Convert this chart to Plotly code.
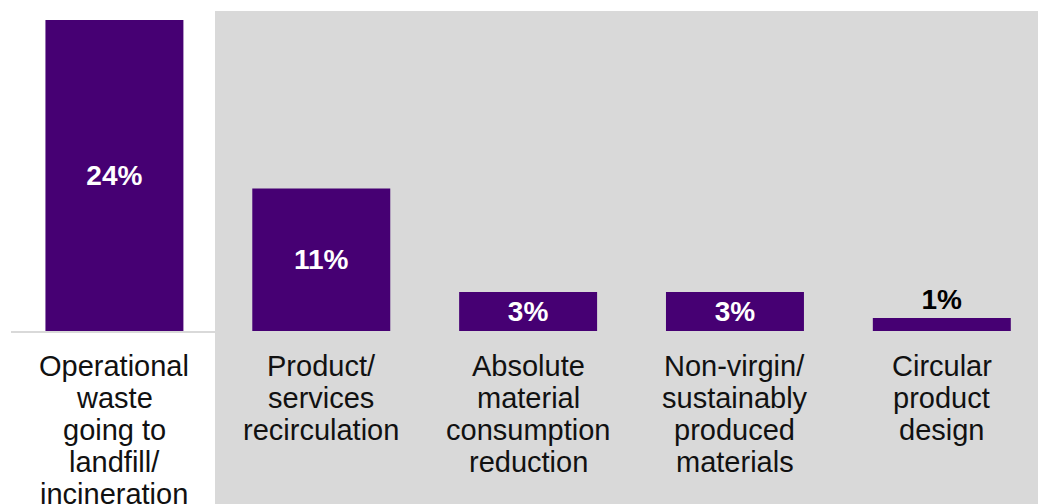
import plotly.graph_objects as go

# Share of companies reporting each circularity metric
categories = [
    "Operational\nwaste\ngoing to\nlandfill/\nincineration",
    "Product/\nservices\nrecirculation",
    "Absolute\nmaterial\nconsumption\nreduction",
    "Non-virgin/\nsustainably\nproduced\nmaterials",
    "Circular\nproduct\ndesign",
]
values = [24, 11, 3, 3, 1]
value_labels = [f"{v}%" for v in values]
label_positions = ["inside", "inside", "inside", "inside", "outside"]

PURPLE = "#460073"
GREY = "#d9d9d9"
FONT = "Liberation Sans, Arial, sans-serif"

W, H = 1038, 504
M_L, M_R, M_T, M_B = 11, 0, 10, 173

fig = go.Figure(
    go.Bar(
        x=list(range(len(values))),
        y=values,
        marker=dict(color=PURPLE, line=dict(width=0)),
        text=value_labels,
        textposition=label_positions,
        insidetextanchor="middle",
        constraintext="none",
        insidetextfont=dict(color="white", size=28, family=FONT, weight="bold"),
        outsidetextfont=dict(color="black", size=28, family=FONT, weight="bold"),
        cliponaxis=False,
        hoverinfo="skip",
    )
)

# Category labels, one annotation per line for tight line spacing
line_gap = 32
first_offset = 35
annotations = []
for i, cat in enumerate(categories):
    for j, line in enumerate(cat.split("\n")):
        annotations.append(
            dict(
                x=i, y=0, xref="x", yref="y",
                text=line, showarrow=False,
                xanchor="center", yanchor="middle",
                yshift=-(first_offset + line_gap * j),
                font=dict(size=29, color="#111111", family=FONT),
            )
        )

plot_w = W - M_L - M_R
plot_h = H - M_T - M_B

# Grey panel behind every category except the first
panel_left_px = 215
panel_top_px = 11
shapes = [
    dict(
        type="rect", xref="paper", yref="paper", layer="below",
        x0=(panel_left_px - M_L) / plot_w, x1=1.02,
        y0=-(M_B + 5) / plot_h, y1=1 - (panel_top_px - M_T) / plot_h,
        fillcolor=GREY, line=dict(width=0),
    )
]

fig.update_layout(
    width=W, height=H,
    margin=dict(l=M_L, r=M_R, t=M_T, b=M_B),
    paper_bgcolor="white",
    plot_bgcolor="rgba(0,0,0,0)",
    bargap=0.333,
    showlegend=False,
    annotations=annotations,
    shapes=shapes,
    xaxis=dict(
        range=[-0.5, 4.465],
        showticklabels=False, ticks="",
        showgrid=False, zeroline=False,
        showline=True, linecolor=GREY, linewidth=2,
        fixedrange=True,
    ),
    yaxis=dict(
        range=[0, 24.77],
        visible=False, showgrid=False, zeroline=False,
        fixedrange=True,
    ),
)

fig.write_html("out.html", config={"displayModeBar": False})
